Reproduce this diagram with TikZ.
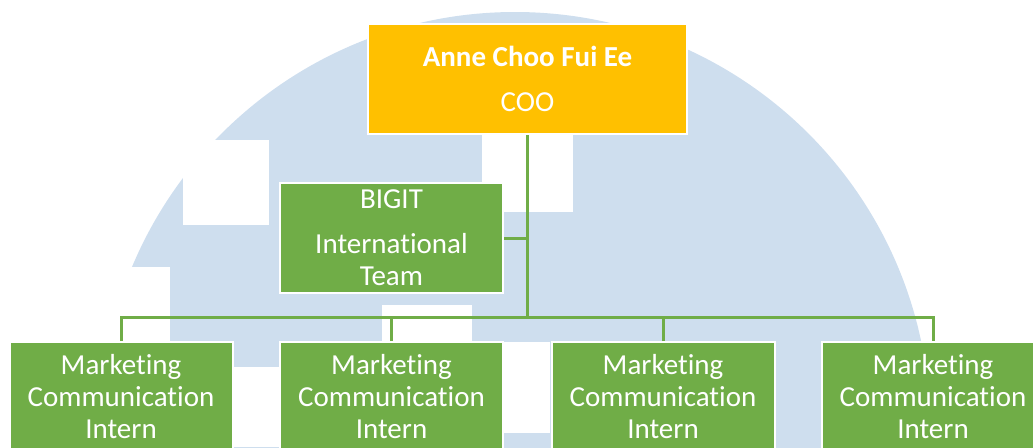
\documentclass[tikz,border=0pt]{standalone}
\usepackage{fontspec}
\setmainfont[Ligatures=NoCommon]{Carlito}
\definecolor{cooyellow}{HTML}{FFC000}
\definecolor{teamgreen}{HTML}{70AD47}
\definecolor{logoblue}{RGB}{206,222,238}
\tikzset{
  box/.style={
    draw=white,
    line width=2pt,
    text=white,
    align=center,
    inner sep=0pt,
    font=\fontsize{29}{32}\selectfont
  },
  headbox/.style={
    box,
    fill=cooyellow,
    minimum width=319pt,
    minimum height=110pt
  },
  teambox/.style={
    box,
    fill=teamgreen,
    minimum width=223pt,
    minimum height=110pt
  },
  link/.style={
    draw=teamgreen,
    line width=3pt
  }
}

\begin{document}
\begin{tikzpicture}[x=1pt,y=-1pt]
    \useasboundingbox (0,0) rectangle (1033,447);
    \clip (0,0) rectangle (1033,447);
    % logo in the back
    \fill[logoblue] (515,427) circle (415);
    \fill[white] (183,140) rectangle (269,225);
    \fill[white] (0,267) rectangle (170,447);
    \fill[white] (482,130) rectangle (573,212);
    \fill[white] (382,305) rectangle (472,447);
    \fill[white] (170,367) rectangle (382,447);
    \fill[white] (472,342) rectangle (550,433);
    % boxes
    \node[headbox] (coo) at (527.5,79) {\textbf{Anne Choo Fui Ee}\\[13pt] COO};
    \node[teambox] (bigit) at (391.5,238) {BIGIT\\[13pt] International\\Team};
    \foreach \i/\x in {1/121,2/391.5,3/663,4/933}{
            \node[teambox] (int\i) at (\x,397) {Marketing\\Communication\\Intern};
        }
    % lines
    \coordinate (hub) at (527.5,317);
    \draw[link] (coo.south) -- (hub);
    \draw[link] (bigit.east) -- (bigit.east -| hub);
    \draw[link] (int1.north) |- (hub) -| (int4.north);
    \foreach \i in {2,3}{
            \draw[link] (int\i.north) -- (int\i.north |- hub);
        }
\end{tikzpicture}
\end{document}
